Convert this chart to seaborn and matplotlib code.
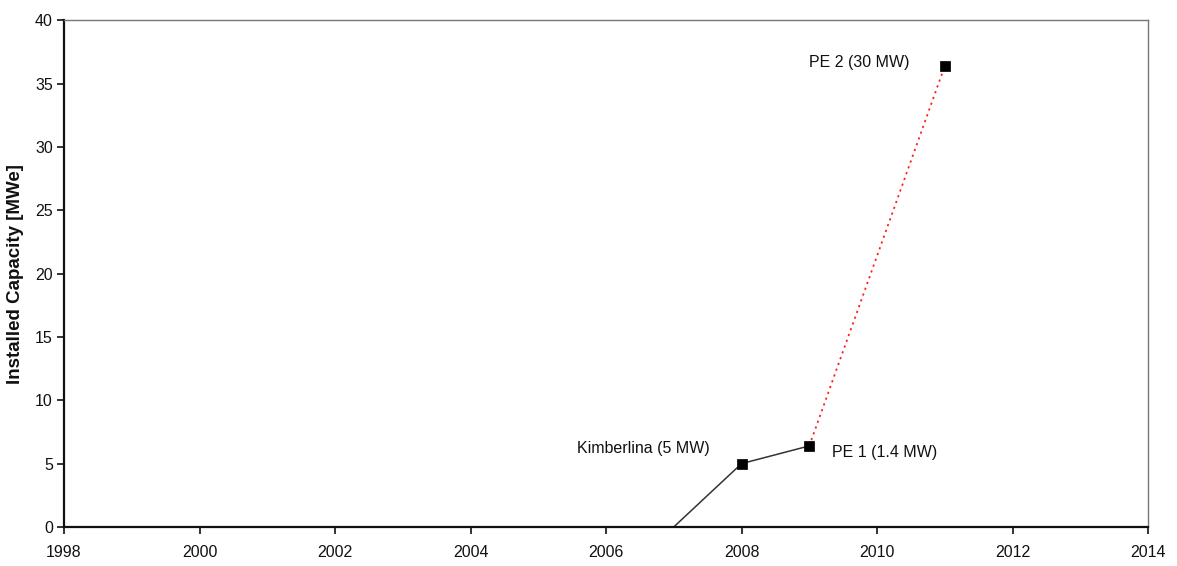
import matplotlib
matplotlib.use("Agg")
import matplotlib.pyplot as plt
import seaborn as sns
import pandas as pd

# Installed capacity timeline (cumulative MWe)
built_years = [2007, 2008, 2009]
built_capacity = [0.0, 5.0, 6.4]
planned_years = [2009, 2011]
planned_capacity = [6.4, 36.4]
marker_years = [2008, 2009, 2011]
marker_capacity = [5.0, 6.4, 36.4]
plant_labels = ["Kimberlina (5 MW)", "PE 1 (1.4 MW)", "PE 2 (30 MW)"]
x_ticks = list(range(1998, 2015, 2))
y_ticks = list(range(0, 41, 5))

sns.set_theme(style="white")
plt.rcParams["font.family"] = ["Liberation Sans", "DejaVu Sans"]

fig = plt.figure(figsize=(11.77, 5.66), dpi=100)
ax = fig.add_axes([0.0544, 0.069, 0.921, 0.895])

built = pd.DataFrame({"year": built_years, "cap": built_capacity})
planned = pd.DataFrame({"year": planned_years, "cap": planned_capacity})
marks = pd.DataFrame({"year": marker_years, "cap": marker_capacity})

sns.lineplot(data=built, x="year", y="cap", ax=ax, color="#333333", linewidth=1.1)
sns.lineplot(data=planned, x="year", y="cap", ax=ax, color="#ff2020",
             linewidth=1.3, linestyle=(0, (1.2, 2.2)))
sns.scatterplot(data=marks, x="year", y="cap", ax=ax, marker="s", s=42,
                color="black", edgecolor="black", zorder=5)

ax.text(marker_years[0] - 0.47, marker_capacity[0] + 1.2, plant_labels[0],
        ha="right", va="center", fontsize=11.5, color="#111111")
ax.text(marker_years[1] + 0.33, marker_capacity[1] - 0.5, plant_labels[1],
        ha="left", va="center", fontsize=11.5, color="#111111")
ax.text(marker_years[2] - 1.26, marker_capacity[2] + 0.3, plant_labels[2],
        ha="center", va="center", fontsize=11.5, color="#111111")

ax.set_xlim(1998, 2014)
ax.set_ylim(0, 40)
ax.set_xticks(x_ticks)
ax.set_yticks(y_ticks)
ax.set_xlabel("")
ax.set_ylabel("Installed Capacity [MWe]", fontsize=13.5, fontweight="bold",
              color="#111111", labelpad=8)
ax.tick_params(axis="both", which="major", direction="out", length=5, width=1.2,
               colors="#111111", labelsize=11.5, bottom=True, left=True)
ax.tick_params(axis="x", pad=8)
ax.tick_params(axis="y", pad=3)

for side in ["left", "bottom"]:
    ax.spines[side].set_color("#111111")
    ax.spines[side].set_linewidth(1.6)
for side in ["top", "right"]:
    ax.spines[side].set_color("#777777")
    ax.spines[side].set_linewidth(1.0)

fig.savefig("out.png", dpi=100, facecolor="white")
